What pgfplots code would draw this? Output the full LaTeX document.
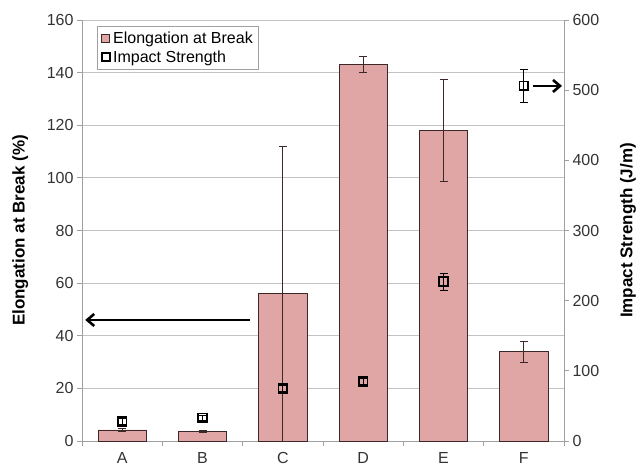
\documentclass[border=0pt]{standalone}
\usepackage{pgfplots}
\pgfplotsset{compat=1.18}
\usepackage{fontspec}
\setmainfont{Liberation Sans}
\usetikzlibrary{arrows.meta}

\definecolor{barfill}{RGB}{224,166,166}
\definecolor{bardraw}{RGB}{60,40,40}
\definecolor{gridgray}{RGB}{195,195,195}
\definecolor{axisgray}{RGB}{160,160,160}

% Elongation at break (%): value and standard deviation
\pgfplotstableread{
x  y    err
0  4.2  0.4
1  3.7  0.4
2  56   56
3  143  3
4  118  19.5
5  34   4
}\elongation

% Impact strength (J/m): value and standard deviation
\pgfplotstableread{
x  y    err
0  28   4
1  33   4
2  75   4
3  85   4
4  227  12
5  506  23
}\impact

\pgfplotsset{
  common/.style={
    scale only axis, width=482pt, height=421pt,
    xmin=-0.5, xmax=5.5,
    /pgf/number format/assume math mode=true,
    tick label style={font=\fontsize{16}{19}\selectfont, text=black!80},
    label style={font=\fontsize{17}{20}\selectfont\bfseries},
    axis line style={draw=axisgray, line width=0.8pt},
    tick style={draw=axisgray, line width=0.8pt},
    tick align=outside,
    major tick length=5pt,
  },
}

\begin{document}
\begin{tikzpicture}
\path[use as bounding box] (-82pt,-25pt) rectangle (557pt,441pt);

\begin{axis}[
  common,
  ymin=0, ymax=160, ytick={0,20,...,160},
  axis y line*=left, axis x line*=bottom,
  xtick={0,...,5}, xticklabels={A,B,C,D,E,F},
  x tick label style={yshift=-3pt},
  major x tick style={draw=none},
  minor xtick={-0.5,0.5,...,5.5},
  minor tick length=5pt,
  ymajorgrids, grid style={draw=gridgray, line width=0.8pt},
  ylabel={Elongation at Break (\%)},
  ylabel style={at={(axis description cs:-0.128,0.5)}, anchor=center},
  legend style={
    at={(rel axis cs:0.031,0.985)}, anchor=north west,
    draw=axisgray, line width=0.8pt, fill=white,
    font=\fontsize{16}{18}\selectfont,
    inner xsep=4pt, inner ysep=3pt, row sep=2pt,
  },
  legend cell align=left,
]
\addplot[
  ybar, bar width=0.6, fill=barfill, draw=bardraw, line width=0.8pt,
  legend image code/.code={\draw[fill=barfill, draw=bardraw, line width=0.6pt] (0pt,-4pt) rectangle (8pt,4pt);},
  error bars/.cd, y dir=both, y explicit,
  error bar style={draw=bardraw, line width=0.8pt},
  error mark options={rotate=90, mark size=4pt, draw=bardraw, line width=0.8pt},
] table[x=x, y=y, y error=err] {\elongation};
\addlegendentry{Elongation at Break}
\addlegendimage{legend image code/.code={\draw[fill=white, draw=black, line width=1.8pt] (0.5pt,-4pt) rectangle (8.5pt,4pt);}}
\addlegendentry{Impact Strength}

% arrow pointing to the left-hand scale
\draw[line width=2.6pt, -{Straight Barb[length=7pt, width=12pt]}]
  (axis cs:1.59,46) -- (axis cs:-0.46,46);
\end{axis}

\begin{axis}[
  common,
  ymin=0, ymax=600, ytick={0,100,...,600},
  axis y line*=right, axis x line=none,
  ylabel={Impact Strength (J/m)},
  ylabel style={at={(axis description cs:1.133,0.5)}, anchor=center},
]
\addplot[
  only marks, mark=square, mark size=4.4pt,
  mark options={draw=black, line width=1.8pt},
  error bars/.cd, y dir=both, y explicit,
  error bar style={draw=black, line width=0.8pt},
  error mark options={rotate=90, mark size=4pt, draw=black, line width=0.8pt},
] table[x=x, y=y, y error=err] {\impact};

% arrow pointing to the right-hand scale
\draw[line width=2.6pt, -{Straight Barb[length=7pt, width=12pt]}]
  (axis cs:5.11,506) -- (axis cs:5.475,506);
\end{axis}
\end{tikzpicture}
\end{document}
